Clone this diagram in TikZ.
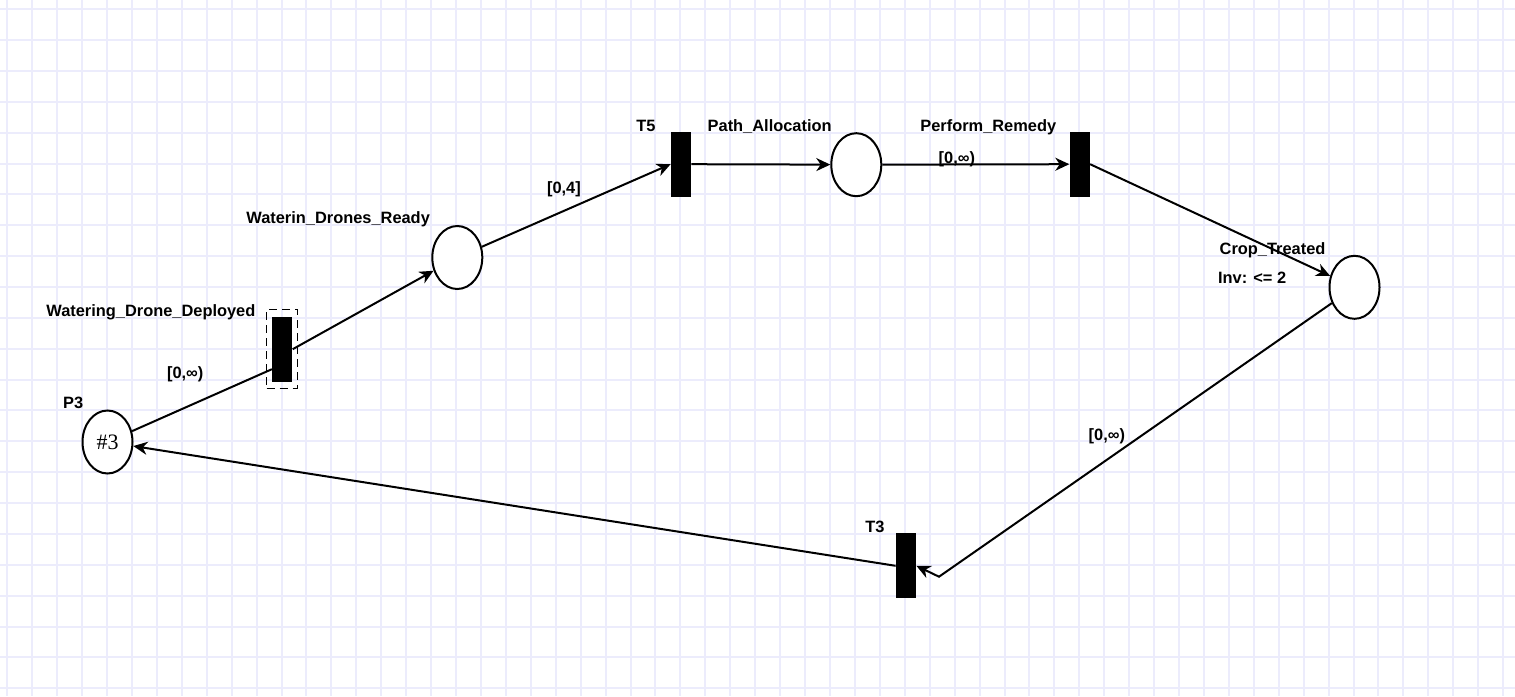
\documentclass[tikz,border=0pt]{standalone}
\usepackage{fontspec}
\setmainfont{Liberation Sans}
\newfontfamily\numserif{Liberation Serif}
\usetikzlibrary{arrows.meta,shapes.geometric}
\begin{document}
\begin{tikzpicture}[x=0.5pt,y=-0.5pt,
  gridline/.style={draw=gridcol,line width=1pt},
  place/.style={draw,ellipse,line width=1pt,minimum width=25pt,minimum height=31.5pt,inner sep=0pt,fill=white},
  trans/.style={fill=black,minimum width=10pt,minimum height=32.5pt,inner sep=0pt},
  lbl/.style={font=\bfseries\fontsize{8.2}{10}\selectfont,inner sep=0pt,anchor=base west},
  arcline/.style={line width=1pt},
  arc/.style={arcline,-{Stealth[length=7pt,width=6.5pt,inset=2.2pt]}},
  selbox/.style={draw,line width=0.75pt,dash pattern=on 4pt off 2.5pt,minimum width=15.3pt,minimum height=39.5pt,inner sep=0pt},
]
\definecolor{gridcol}{RGB}{236,236,252}
\useasboundingbox[fill=white] (0,0) rectangle (1515,696);
% grid
\foreach \k in {0,...,60} {\draw[gridline] ({7.3+24.93*\k},0) -- ({7.3+24.93*\k},696);}
\foreach \k in {0,...,22} {\draw[gridline] (0,{9.3+30.86*\k}) -- (1515,{9.3+30.86*\k});}
% nodes
\node[place] (p3) at (107.5,442) {\numserif\fontsize{11}{12}\selectfont\#3};
\node[trans] (t1) at (282.3,349.2) {};
\node[selbox] (sel) at (282,348.8) {};
\node[place] (wdr) at (457.3,257.5) {};
\node[trans] (t5) at (681,164.2) {};
\node[place] (pa) at (856.3,164.7) {};
\node[trans] (pr) at (1079.7,164.2) {};
\node[place] (ct) at (1354.5,287.3) {};
\node[trans] (t3) at (906,565.8) {};
\coordinate (bend) at (939,576.7);
% arcs
\draw[arcline] (p3) -- ([yshift=-10pt]t1.west);
\draw[arc] (t1.east) -- (wdr);
\draw[arc] (wdr) -- (t5.west);
\draw[arc] (t5.east) -- (pa);
\draw[arc] (pa) -- (pr.west);
\draw[arc] (pr.east) -- (ct);
\draw[arc] (ct) -- (bend) -- (t3.east);
\draw[arc] (t3.west) -- (p3);
% labels
\node[lbl] (lwdd) at (46,316) {Watering\_Drone\_Deployed};
\node[lbl] (l1) at (166.7,378.5) {[0,∞)};
\node[lbl] (lp3) at (62.7,408.3) {P3};
\node[lbl] (lwdr) at (246,223.3) {Waterin\_Drones\_Ready};
\node[lbl] (l2) at (546.7,193) {[0,4]};
\node[lbl] (lt5) at (636,131.7) {T5};
\node[lbl] (lpa) at (707.3,131.7) {Path\_Allocation};
\node[lbl] (lpr) at (920,131.7) {Perform\_Remedy};
\node[lbl] (l3) at (938.3,163.3) {[0,∞)};
\node[lbl] (lct) at (1219.3,254) {Crop\_Treated};
\node[lbl] (linv) at (1217.7,283.3) {Inv: <= 2};
\node[lbl] (lt3) at (865,532.7) {T3};
\node[lbl] (l4) at (1088.3,440) {[0,∞)};
\end{tikzpicture}
\end{document}
